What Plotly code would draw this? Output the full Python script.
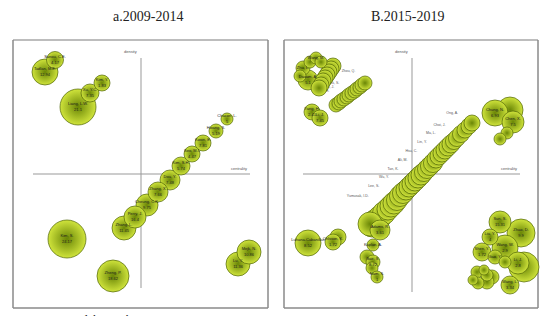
import plotly.graph_objects as go

W, H = 551, 316

# ---------------- Panel a (2009-2014) ----------------
names_a = ["Sanou, C.E.", "Tadlan, M.E.", "Kim, Y.", "Xu, Y.C.", "Liang, L.W.",
           "Chacon, L.", "Hwang, S.", "Kwon, E.", "Seo, M.I.", "Kim, S.H.",
           "Dou, Y.", "Zhang, X.", "Cheung, C.K.", "Perry, J.", "Zhang, L.",
           "Kim, S.", "Zheng, P.", "Lu, Y.", "Mejk, N."]
values_a = [4.17, 12.94, 1.83, 7.35, 21.1, 5, 5.19, 7.81, 4.47, 5.74,
            7.48, 7.66, 9.75, 16.4, 11.45, 24.17, 18.62, 11.36, 10.86]
centrality_a = [-8.6, -9.6, -3.9, -5.1, -6.3, 8.6, 7.5, 6.2, 5.1, 4.0,
                2.9, 1.7, 0.6, -0.6, -1.7, -7.4, -2.8, 9.7, 10.8]
density_a = [11.4, 10.2, 9.1, 8.1, 6.7, 5.5, 4.3, 3.1, 2.0, 0.8,
             -0.6, -1.8, -3.1, -4.3, -5.4, -6.5, -10.2, -9.0, -7.8]
weight_a = [72, 169, 64, 81, 324, 36, 49, 64, 64, 81,
            100, 100, 121, 121, 144, 361, 256, 144, 144]

# ---------------- Panel B (2015-2019) ----------------
names_b = ["Zhu, L.", "", "Wang, M.", "", "", "Daxam, A.",
           "", "", "", "", "", "", "", "",
           "Yang, H.", "Li, J.",
           "", "Chung, N.", "Chen, X.", "", "",
           "Luhana-Cabanillas", "", "Ohlsson, K.",
           "", "Adams, R.",
           "Kaplan, A.", "", "Bae, S.", "", "Nam, S.",
           "", "Zhao, D.", "Sun, S.", "Wang, W.", "Liu, Y.", "Shen, Y.", "Li, J.",
           "Gao, Y.", "", "Wang, L.", "", "", "", "", "", "", ""]
values_b = ["", "", "", "", "", "5.1",
            "", "", "", "", "", "", "", "",
            "2.41", "7.45",
            "", "6.93", "7.5", "", "",
            "8.52", "", "1.72",
            "", "3.61",
            "", "", "8.72", "", "1",
            "", "9.9", "15.31", "2.9", "4", "1.72", "2.8",
            "", "", "3.34", "", "", "", "", "", "", ""]
centrality_b = [-10.9, -10.2, -9.6, -9.1, -11.2, -10.4,
                -7.9, -8.1, -8.3, -8.5, -8.7, -8.9, -9.1, -9.3,
                -10.0, -9.2,
                9.8, 8.3, 10.1, 9.5, 8.8,
                -10.4, -7.4, -7.9,
                -4.2, -3.2,
                -3.9, -4.5, -3.9, -4.0, -3.5,
                11.2, 10.9, 8.8, 9.3, 7.8, 7.0, 10.6,
                8.3, 9.3, 9.8, 6.5, 7.5, 8.0, 6.6, 6.1, 7.5, 7.2]
density_b = [10.6, 11.2, 11.6, 11.2, 9.8, 9.4,
             10.8, 10.5, 10.2, 9.9, 9.6, 9.3, 8.9, 8.6,
             6.2, 5.6,
             6.4, 6.1, 5.2, 4.1, 3.5,
             -6.9, -6.3, -6.8,
             -5.0, -5.6,
             -7.1, -8.3, -8.8, -9.4, -10.3,
             -9.3, -5.9, -4.8, -7.4, -6.3, -7.8, -8.9,
             -8.3, -8.8, -11.1, -9.8, -10.1, -10.3, -10.9, -10.6, -10.8, -9.6]
weight_b = [49, 36, 36, 36, 36, 100,
            64, 64, 64, 64, 64, 64, 64, 64,
            64, 64,
            169, 169, 121, 36, 36,
            169, 64, 64,
            144, 100,
            36, 49, 49, 36, 36,
            225, 196, 121, 169, 64, 81, 121,
            49, 36, 81, 36, 36, 49, 36, 25, 49, 25]

# two diagonal chains of panel B
names_b_chain = ["", "Liu, H.", "", "Kim, J.", "", "Park, S.", "", "", "", "", "", "Zhou, Q."]
centrality_b_chain = [-7.6, -7.3, -7.1, -6.8, -6.5, -6.3, -6.0, -5.7, -5.5, -5.2, -5.0, -4.7]
density_b_chain = [6.9, 7.1, 7.3, 7.5, 7.7, 7.9, 8.1, 8.3, 8.5, 8.7, 8.9, 9.1]
weight_b_chain = [49] * 12

names_b_diag = ["", "", "", "Yumusak, I.D.", "", "", "Lee, S.", "", "", "Wu, Y.", "", "",
                "Tan, K.", "", "", "Ali, M.", "", "", "Hsu, C.", "", "", "Lin, Y.",
                "", "", "Ma, L.", "", "", "Choi, J.", "", "", "Ong, A.", ""]
centrality_b_diag = [-4.0, -3.6, -3.2, -2.8, -2.4, -2.1, -1.8, -1.5, -1.2, -0.9, -0.6, -0.3,
                     0.0, 0.3, 0.6, 0.9, 1.2, 1.5, 1.8, 2.1, 2.4, 2.7, 3.0, 3.3,
                     3.6, 3.9, 4.2, 4.5, 4.9, 5.3, 5.7, 6.0]
density_b_diag = [-5.1, -4.7, -4.3, -3.9, -3.5, -3.2, -2.9, -2.6, -2.2, -1.9, -1.6, -1.3,
                  -1.0, -0.7, -0.4, -0.1, 0.2, 0.5, 0.8, 1.1, 1.5, 1.8, 2.1, 2.4,
                  2.7, 3.0, 3.3, 3.6, 4.0, 4.4, 4.8, 5.1]
weight_b_diag = [144, 144, 132, 132, 121, 121, 121, 110, 110, 110, 100, 100,
                 100, 100, 100, 100, 90, 90, 90, 90, 81, 81, 81, 81,
                 81, 81, 72, 72, 72, 64, 64, 64]

# ---------------- styling ----------------
CENTER = "#d0e43c"
EDGE = "#6a8606"
LINE = "#4e6304"
FONT = "Liberation Sans"

def bubble(x, y, w, text, xa, ya, pos="middle center", tcol="#1a1a1a", tsize=4):
    order = sorted(range(len(w)), key=lambda i: -w[i])
    return go.Scatter(
        x=[x[i] for i in order], y=[y[i] for i in order],
        text=[text[i] for i in order],
        mode="markers+text", textposition=pos,
        textfont=dict(size=tsize, color=tcol, family=FONT),
        marker=dict(size=[w[i] for i in order], sizemode="area", sizeref=0.5,
                    color=CENTER, gradient=dict(type="radial", color=EDGE),
                    line=dict(color=LINE, width=0.7), opacity=1),
        xaxis=xa, yaxis=ya, hoverinfo="skip", showlegend=False, cliponaxis=False)

def lab(n, v):
    return [(a + "<br>" + str(b)) if str(b) != "" else a for a, b in zip(n, v)]

fig = go.Figure()
fig.add_trace(bubble(centrality_a, density_a, weight_a, lab(names_a, values_a), "x", "y"))
fig.add_trace(bubble(centrality_b_diag, density_b_diag, weight_b_diag, names_b_diag,
                     "x2", "y2", pos="top left", tcol="#555", tsize=3.5))
fig.add_trace(bubble(centrality_b_chain, density_b_chain, weight_b_chain, names_b_chain,
                     "x2", "y2", pos="top left", tcol="#555", tsize=3.5))
fig.add_trace(bubble(centrality_b, density_b, weight_b, lab(names_b, values_b), "x2", "y2"))

# panel geometry (pixels)
L1, R1, L2, R2, T, B = 13, 268, 284, 538, 40, 308
def px(x):
    return x / W
def py(y):
    return 1 - y / H

ax = dict(showgrid=False, zeroline=False, showticklabels=False, ticks="", showline=False, fixedrange=True)
fig.update_layout(
    width=W, height=H, margin=dict(l=0, r=0, t=0, b=0),
    paper_bgcolor="white", plot_bgcolor="rgba(0,0,0,0)",
    xaxis=dict(ax, domain=[px(L1), px(R1)], range=[-12.8, 12.7]),
    yaxis=dict(ax, domain=[py(B), py(T)], range=[-13.4, 13.4]),
    xaxis2=dict(ax, domain=[px(L2), px(R2)], range=[-12.8, 12.6]),
    yaxis2=dict(ax, domain=[py(B), py(T)], range=[-13.4, 13.4]),
)

shapes = []
for l, r in [(L1, R1), (L2, R2)]:
    shapes.append(dict(type="line", xref="paper", yref="paper", x0=px(l), x1=px(r), y0=py(T), y1=py(T),
                       line=dict(color="#bdbdbd", width=2), layer="below"))
    shapes.append(dict(type="line", xref="paper", yref="paper", x0=px(l), x1=px(r), y0=py(B), y1=py(B),
                       line=dict(color="#8a8a8a", width=1.5), layer="below"))
    shapes.append(dict(type="line", xref="paper", yref="paper", x0=px(l), x1=px(l), y0=py(B), y1=py(T),
                       line=dict(color="#8a8a8a", width=1.5), layer="below"))
    shapes.append(dict(type="line", xref="paper", yref="paper", x0=px(r), x1=px(r), y0=py(B), y1=py(T),
                       line=dict(color="#8a8a8a", width=1.5), layer="below"))
# crosshairs
for xr, yr, xl, xh, yl, yh in [("x", "y", -10.8, 10.9, -11.4, 11.6), ("x2", "y2", -10.9, 10.8, -11.8, 11.6)]:
    shapes.append(dict(type="line", xref=xr, yref=yr, x0=0, x1=0, y0=yl, y1=yh,
                       line=dict(color="#999", width=1), layer="below"))
    shapes.append(dict(type="line", xref=xr, yref=yr, x0=xl, x1=xh, y0=0, y1=0,
                       line=dict(color="#999", width=1), layer="below"))
fig.update_layout(shapes=shapes)

ann = [
    dict(text="a.2009-2014", x=px(148), y=py(17), xref="paper", yref="paper", showarrow=False,
         xanchor="center", yanchor="middle",
         font=dict(family="Liberation Serif", size=14, color="#222")),
    dict(text="B.2015-2019", x=px(408), y=py(17), xref="paper", yref="paper", showarrow=False,
         xanchor="center", yanchor="middle",
         font=dict(family="Liberation Serif", size=14, color="#222")),
    dict(text="<b>Fuente:</b> Elaboración propia", x=px(33), y=py(311), xref="paper", yref="paper",
         xanchor="left", yanchor="top", showarrow=False,
         font=dict(family="Liberation Serif", size=12, color="#222")),
    dict(text="density", x=-0.2, y=11.8, xref="x", yref="y", xanchor="right", yanchor="bottom",
         showarrow=False, font=dict(family=FONT, size=4, color="#555")),
    dict(text="centrality", x=10.8, y=0.1, xref="x", yref="y", xanchor="right", yanchor="bottom",
         showarrow=False, font=dict(family=FONT, size=4, color="#555")),
    dict(text="density", x=-0.2, y=11.8, xref="x2", yref="y2", xanchor="right", yanchor="bottom",
         showarrow=False, font=dict(family=FONT, size=4, color="#555")),
    dict(text="centrality", x=10.7, y=0.1, xref="x2", yref="y2", xanchor="right", yanchor="bottom",
         showarrow=False, font=dict(family=FONT, size=4, color="#555")),
]
fig.update_layout(annotations=ann)

fig.write_html("out.html", config={"displayModeBar": False, "staticPlot": True},
               post_script="document.body.style.margin='0px';")
